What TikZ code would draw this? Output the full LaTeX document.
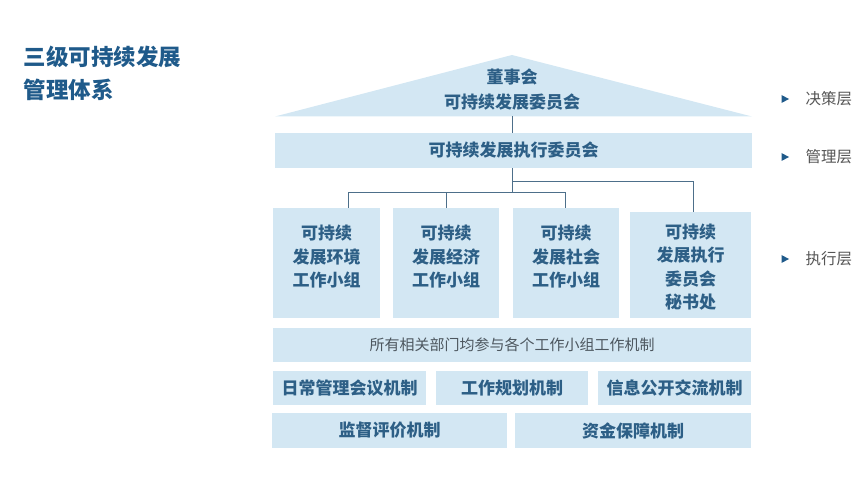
\documentclass[tikz,border=0pt]{standalone}
\usepackage{fontspec}
\setmainfont{Noto Sans CJK SC}
\usepackage{xcolor}
\definecolor{vlightblue}{HTML}{D3E7F3}
\definecolor{vtextblue}{HTML}{2D5F86}
\definecolor{vtitleblue}{HTML}{1F5A8A}
\definecolor{vline}{HTML}{4D6F8A}
\definecolor{vgray}{HTML}{555555}
\tikzset{
	box/.style={fill=vlightblue, inner sep=0pt, align=center, text=vtextblue, font=\fontsize{17}{23.5}\selectfont\bfseries},
	boxtext/.style={inner sep=0pt, align=center, text=vtextblue, font=\fontsize{17}{23.5}\selectfont\bfseries},
	conn/.style={color=vline, line width=1pt},
	level/.style={anchor=west, text=vgray, font=\fontsize{15.5}{18}\selectfont}
}

\begin{document}
\begin{tikzpicture}[x=1pt, y=-1pt]
		\useasboundingbox (0,0) rectangle (860,486);
		% title
		\node[anchor=west, text=vtitleblue, font=\fontsize{22.5}{26}\selectfont\bfseries] (title1) at (20,57) {三级可持续发展};
		\node[anchor=west, text=vtitleblue, font=\fontsize{22.5}{26}\selectfont\bfseries] (title2) at (20,90) {管理体系};
		% roof
		\fill[color=vlightblue] (275,116.5) -- (512,55) -- (752,116.5) -- cycle;
		\node[boxtext, font=\fontsize{17}{25}\selectfont\bfseries] (board) at (512,90) {董事会\\可持续发展委员会};
		\coordinate (roofbase) at (512,116.5);
		% management
		\node[box, minimum width=477, minimum height=35] (exec) at (513.5,150.5) {可持续发展执行委员会};
		% working groups
		\node[box, minimum width=107, minimum height=110] (env) at (326.5,263) {};
		\node[box, minimum width=106, minimum height=110] (eco) at (446,263) {};
		\node[box, minimum width=106, minimum height=110] (soc) at (566,263) {};
		\node[box, minimum width=121, minimum height=106] (sec) at (690.5,265) {};
		\node[boxtext] (envtext) at ([yshift=6pt]env.center) {可持续\\发展环境\\工作小组};
		\node[boxtext] (ecotext) at ([yshift=6pt]eco.center) {可持续\\发展经济\\工作小组};
		\node[boxtext] (soctext) at ([yshift=6pt]soc.center) {可持续\\发展社会\\工作小组};
		\node[boxtext] (sectext) at ([yshift=-2pt]sec.center) {可持续\\发展执行\\委员会\\秘书处};
		% mechanisms
		\node[box, minimum width=478, minimum height=34, font=\fontsize{15}{18}\selectfont, text=vgray!80!vtextblue] (all) at (512,345) {所有相关部门均参与各个工作小组工作机制};
		\node[box, minimum width=153, minimum height=34] (meet) at (349.5,388) {日常管理会议机制};
		\node[box, minimum width=152, minimum height=34] (plan) at (512,388) {工作规划机制};
		\node[box, minimum width=153, minimum height=34] (info) at (674.5,388) {信息公开交流机制};
		\node[box, minimum width=235, minimum height=35] (sup) at (389.5,430.5) {监督评价机制};
		\node[box, minimum width=236, minimum height=35] (fund) at (633,430.5) {资金保障机制};
		% connectors
		\draw[conn] (roofbase) -- (roofbase |- exec.north);
		\draw[conn] (roofbase |- exec.south) |- (693,182) -- (693,212);
		\draw[conn] (roofbase |- exec.south) -- (512,193);
		\draw[conn] (348,208) |- (565,193) -- (565,208);
		\draw[conn] (446,193) -- (eco.north);
		% levels
		\fill[color=vtitleblue] (781.5,95) -- (789,99) -- (781.5,103) -- cycle;
		\fill[color=vtitleblue] (781.5,153) -- (789,157) -- (781.5,161) -- cycle;
		\fill[color=vtitleblue] (781.5,255) -- (789,259) -- (781.5,263) -- cycle;
		\node[level] (decide) at (802,99) {决策层};
		\node[level] (manage) at (802,157) {管理层};
		\node[level] (execute) at (802,259) {执行层};
	\end{tikzpicture}
\end{document}
